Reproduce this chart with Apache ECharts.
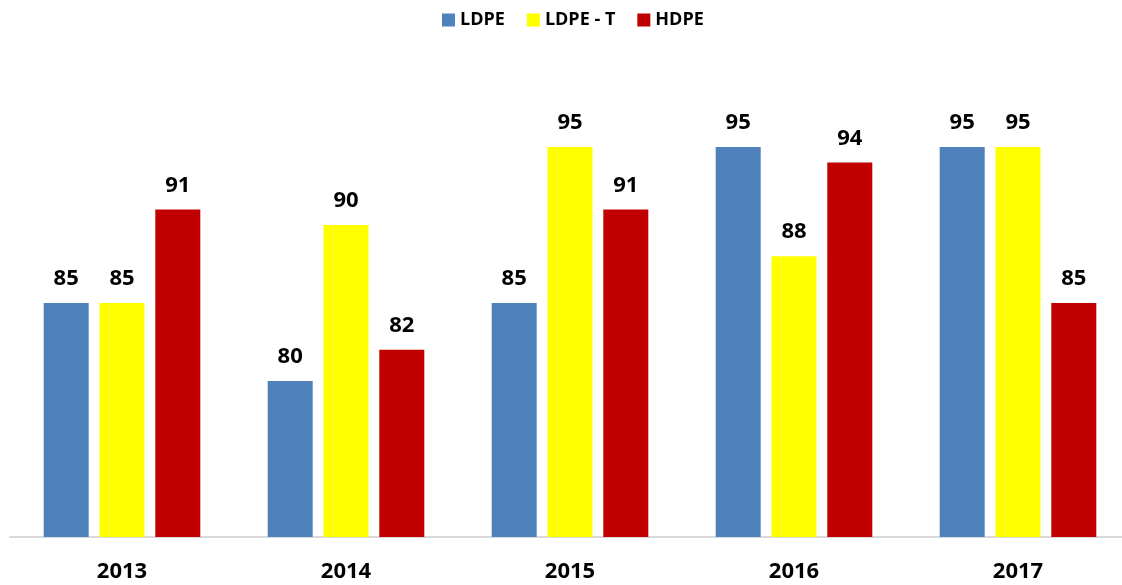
<!DOCTYPE html>
<html>
<head>
<meta charset="utf-8">
<script src="https://cdn.jsdelivr.net/npm/echarts@6/dist/echarts.min.js"></script>
<style>
html,body{margin:0;padding:0;background:#fff;}
#chart{width:1122px;height:585px;}
</style>
</head>
<body>
<div id="chart"></div>
<script>
var years = ['2013', '2014', '2015', '2016', '2017'];
var ldpe = [85, 80, 85, 95, 95];
var ldpeT = [85, 90, 95, 88, 95];
var hdpe = [91, 82, 91, 94, 85];

var chart = {
	init:function(){
		this.render();
	},
	render:function(){
		var mc = echarts.init(document.getElementById('chart'));
		var font = 'Open Sans, sans-serif';
		var lbl = {show:true, position:'top', distance:13, color:'#000', fontWeight:'bold', fontSize:22, fontFamily:font};
		function bar(name, data, color){
			return {name:name, type:'bar', data:data, barWidth:45, barGap:'24%',
				itemStyle:{color:color}, label:lbl, animation:false};
		}
		//配置option
		var option = {
			backgroundColor:'#fff',
			legend:{
				top:6, left:437, itemWidth:13, itemHeight:13, itemGap:22,
				icon:'rect',
				textStyle:{fontWeight:'bold', fontSize:18, fontFamily:font, color:'#000'},
				data:['LDPE', 'LDPE - T', 'HDPE']
			},
			grid:{left:10, top:69, right:-8, height:468, outerBoundsMode:'none'},
			xAxis:{
				type:'category', data:years,
				axisLine:{lineStyle:{color:'#d9d9d9', width:2}},
				axisTick:{show:false},
				axisLabel:{margin:24, color:'#000', fontWeight:'bold', fontSize:22, fontFamily:font}
			},
			yAxis:{type:'value', min:70, max:100, show:false, splitLine:{show:false}},
			series:[
				bar('LDPE', ldpe, '#4f81bd'),
				bar('LDPE - T', ldpeT, '#ffff00'),
				bar('HDPE', hdpe, '#c00000')
			]
		};
		mc.setOption(option);
	}
};

chart.init();
</script>
</body>
</html>
